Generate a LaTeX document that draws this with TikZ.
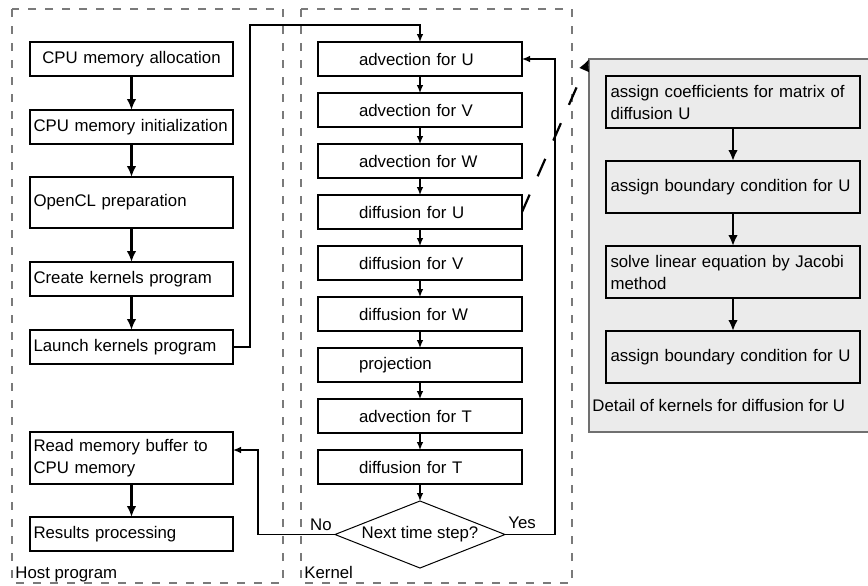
\documentclass[tikz,border=0pt]{standalone}
\usepackage{fontspec}
\setmainfont{Liberation Sans}
\usetikzlibrary{arrows.meta,positioning,shapes.geometric}
\definecolor{PanelFill}{HTML}{EBEBEB}
\definecolor{PanelEdge}{HTML}{707070}
\definecolor{FrameGray}{HTML}{7A7A7A}

\begin{document}
\begin{tikzpicture}[x=0.5pt,y=-0.5pt,
    font=\fontsize{8.4}{11}\selectfont,
    hostbox/.style={draw,line width=1.1pt,outer sep=0pt,text width=98pt,
      inner xsep=1.75pt,minimum height=17pt,align=left},
    kernbox/.style={draw,line width=0.85pt,outer sep=0pt,text width=61pt,
      inner xsep=20.5pt,minimum height=17pt,align=left},
    detailbox/.style={draw,line width=1.1pt,outer sep=0pt,fill=PanelFill,
      text width=122.5pt,inner xsep=2.25pt,minimum height=26pt,align=left},
    decision/.style={draw,diamond,line width=0.5pt,outer sep=0pt,aspect=2.5,
      inner sep=0pt,minimum width=85pt,minimum height=33.5pt},
    frame/.style={draw=FrameGray,line width=0.6pt,dash pattern=on 4pt off 4.5pt},
    flow/.style={line width=1.1pt,-{Latex[length=5.5pt,width=4.8pt]}},
    kflow/.style={line width=0.7pt,-{Latex[length=4pt,width=3.4pt]}},
    zoomline/.style={line width=1.1pt,dash pattern=on 9.5pt off 10pt,
      -{Latex[length=6pt,width=5.5pt]}},
    tag/.style={inner sep=1.5pt}
  ]
    \useasboundingbox (0,0) rectangle (868,585);

    % host / kernel frames
    \draw[frame] (12,9) rectangle (283,583);
    \draw[frame] (301,9) rectangle (572,583);
    \node[tag,anchor=base west] (hostlbl) at (12,578) {Host program};
    \node[tag,anchor=base west] (kernlbl) at (301,578) {Kernel};

    % detail panel, open to the right
    \coordinate (dcorner) at (589,59);
    \fill[PanelFill] (dcorner) rectangle (868,432);
    \draw[PanelEdge,line width=0.6pt] (868,59) -- (dcorner) -- (589,432) -- (868,432);
    \node[tag,anchor=west] (detlbl) at (589,405) {Detail of kernels for diffusion for U};

    % host program
    \node[hostbox,align=center] (alloc) at (131.5,59) {CPU memory allocation};
    \node[hostbox,below=17pt of alloc] (init) {CPU memory initialization};
    \node[hostbox,below=16.5pt of init,minimum height=25.5pt] (ocl) {OpenCL preparation};
    \node[hostbox,below=17pt of ocl] (create) {Create kernels program};
    \node[hostbox,below=17pt of create] (launch) {Launch kernels program};
    \node[hostbox,minimum height=26pt] (read) at (131.5,458) {Read memory buffer to\\CPU memory};
    \node[hostbox,below=16.5pt of read] (result) {Results processing};

    % kernels
    \node[kernbox] (advU) at (420,59) {advection for U};
    \node[kernbox,below=8.5pt of advU] (advV) {advection for V};
    \node[kernbox,below=8.5pt of advV] (advW) {advection for W};
    \node[kernbox,below=8.5pt of advW] (difU) {diffusion for U};
    \node[kernbox,below=8.5pt of difU] (difV) {diffusion for V};
    \node[kernbox,below=8.5pt of difV] (difW) {diffusion for W};
    \node[kernbox,below=8.5pt of difW] (proj) {projection};
    \node[kernbox,below=8.5pt of proj] (advT) {advection for T};
    \node[kernbox,below=8.5pt of advT] (difT) {diffusion for T};
    \node[decision,below=8.5pt of difT] (next) {Next time step?};

    % detail of diffusion for U
    \node[detailbox] (coef) at (733,102) {assign coefficients for matrix of\\diffusion U};
    \node[detailbox,below=16.5pt of coef] (bcA) {assign boundary condition for U};
    \node[detailbox,below=16.5pt of bcA] (jacobi) {solve linear equation by Jacobi\\method};
    \node[detailbox,below=16.5pt of jacobi] (bcB) {assign boundary condition for U};

    % host flow
    \draw[flow] (alloc) -- (init);
    \draw[flow] (init) -- (ocl);
    \draw[flow] (ocl) -- (create);
    \draw[flow] (create) -- (launch);
    \draw[flow] (read) -- (result);

    % kernel flow
    \foreach \a/\b in {advU/advV,advV/advW,advW/difU,difU/difV,difV/difW,
        difW/proj,proj/advT,advT/difT,difT/next}
      \draw[kflow] (\a) -- (\b);

    \draw[kflow] (launch.east) -- ++(8.5pt,0) |- ([yshift=8.5pt]advU.north) -- (advU.north);
    \draw[kflow] (next.east) -- ++(25pt,0) |- (advU.east);
    \draw[kflow] (next.west) -- ++(-38.5pt,0) |- ([yshift=4pt]read.east);
    \node[tag,anchor=south east] (nolbl) at (next.west) {No};
    \node[tag,anchor=south west] (yeslbl) at ([yshift=1pt]next.east) {Yes};

    % detail flow
    \draw[flow] (coef) -- (bcA);
    \draw[flow] (bcA) -- (jacobi);
    \draw[flow] (jacobi) -- (bcB);
    \draw[zoomline] (difU.east) -- (dcorner);
\end{tikzpicture}
\end{document}
